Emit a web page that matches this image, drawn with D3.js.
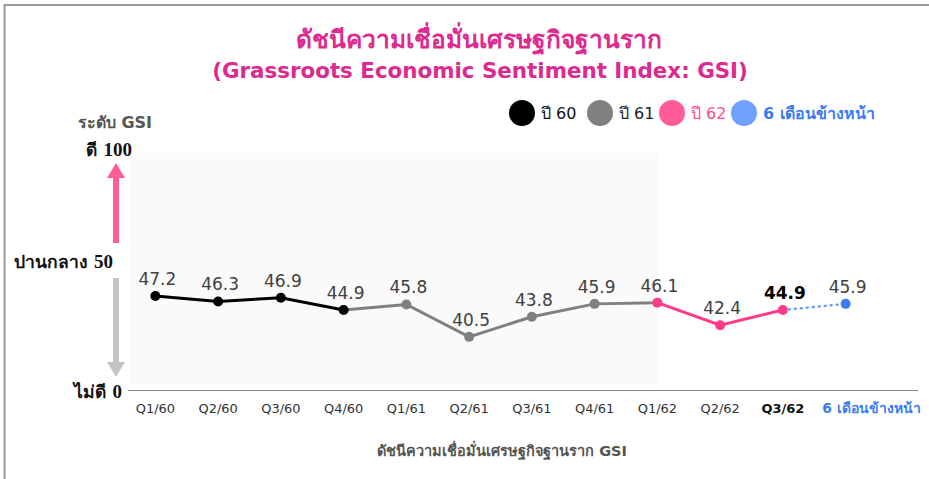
<!DOCTYPE html>
<html>
<head>
<meta charset="utf-8">
<script src="https://cdn.jsdelivr.net/npm/d3@7"></script>
<style>
	body { margin: 0; background: #fff; }
	svg { display: block; font-family: Tahoma, "DejaVu Sans", sans-serif; }
</style>
</head>
<body>
<div id="chart-area"></div>
<script>
// Data
let quarters = ["Q1/60", "Q2/60", "Q3/60", "Q4/60", "Q1/61", "Q2/61", "Q3/61", "Q4/61", "Q1/62", "Q2/62", "Q3/62", "6 เดือนข้างหน้า"];
let gsi = [47.2, 46.3, 46.9, 44.9, 45.8, 40.5, 43.8, 45.9, 46.1, 42.4, 44.9, 45.9];
let pointGroup = ["ปี 60", "ปี 60", "ปี 60", "ปี 60", "ปี 61", "ปี 61", "ปี 61", "ปี 61", "ปี 62", "ปี 62", "ปี 62", "6 เดือนข้างหน้า"];

// Line pieces (first and last quarter of each piece)
let pieceGroup = ["ปี 60", "ปี 61", "ปี 62", "6 เดือนข้างหน้า"];
let pieceFrom = ["Q1/60", "Q4/60", "Q1/62", "Q3/62"];
let pieceTo = ["Q4/60", "Q1/62", "Q3/62", "6 เดือนข้างหน้า"];

// Legend
let legendNames = ["ปี 60", "ปี 61", "ปี 62", "6 เดือนข้างหน้า"];

// Left side scale notes
let levelLabels = ["ดี", "ปานกลาง", "ไม่ดี"];
let levelValues = ["100", "50", "0"];

let width = 929, height = 479;
let svg = d3.select("#chart-area")
	.append("svg")
	.attr("width", width)
	.attr("height", height);

// Colors per group
let pointColor = d3.scaleOrdinal().domain(legendNames).range(["#000000", "#808080", "#ff3a88", "#3b7cf0"]);
let lineColor = d3.scaleOrdinal().domain(legendNames).range(["#000000", "#808080", "#ff3a88", "#6a9cff"]);
let legendColor = d3.scaleOrdinal().domain(legendNames).range(["#000000", "#808080", "#ff5c98", "#6fa1ff"]);
let legendText = d3.scaleOrdinal().domain(legendNames).range(["#111111", "#222222", "#ff4d8f", "#3b7cf0"]);

// Frame
svg.append("path")
	.attr("d", "M4.5,479V5H929")
	.attr("fill", "none")
	.attr("stroke", "#9a9a9a")
	.attr("stroke-width", 2);

// Scales
let x = d3.scaleBand()
	.domain(quarters)
	.range([124, 877]);
let y = d3.scaleLinear()
	.domain([31.8, 70.6])
	.range([390, 153]);
let cx = d => x(d) + x.bandwidth() / 2;

// Plot background (history part)
svg.append("rect")
	.attr("x", 130)
	.attr("y", y(70.6))
	.attr("width", cx("Q1/62") - 130)
	.attr("height", y(32.6) - y(70.6))
	.attr("fill", "#fafafa");

// Titles
svg.append("text")
	.attr("x", 479).attr("y", 48)
	.attr("text-anchor", "middle")
	.attr("font-size", 24.5).attr("font-weight", "bold")
	.attr("fill", "#dc2a8f")
	.text("ดัชนีความเชื่อมั่นเศรษฐกิจฐานราก");
svg.append("text")
	.attr("x", 480).attr("y", 78)
	.attr("text-anchor", "middle")
	.attr("font-size", 21.4).attr("font-weight", "bold")
	.attr("fill", "#dc2a8f")
	.text("(Grassroots Economic Sentiment Index: GSI)");

// Legend
let legendX = [522, 600, 672, 744];
let legend = svg.selectAll(".legend")
	.data(legendNames)
	.enter()
	.append("g")
	.attr("class", "legend")
	.attr("transform", (d, i) => "translate(" + legendX[i] + ",113)");
legend.append("circle")
	.attr("r", 13)
	.attr("fill", d => legendColor(d));
legend.append("text")
	.attr("x", 19).attr("y", 6)
	.attr("font-size", 16)
	.attr("font-weight", (d, i) => i == 3 ? "bold" : "normal")
	.attr("fill", d => legendText(d))
	.text(d => d);

// Left notes
svg.append("text")
	.attr("x", 152).attr("y", 128)
	.attr("text-anchor", "end")
	.attr("font-size", 16).attr("font-weight", "bold")
	.attr("fill", "#555")
	.text("ระดับ GSI");
let levelY = [156, 268, 398];
levelLabels.forEach((d, i) => {
	let t = svg.append("text")
		.attr("x", [132, 113, 122][i]).attr("y", levelY[i])
		.attr("text-anchor", "end")
		.attr("font-weight", "bold")
		.attr("fill", "#111");
	t.append("tspan")
		.attr("font-size", 17.5)
		.text(d + " ");
	t.append("tspan")
		.attr("font-family", "'Liberation Serif', serif")
		.attr("font-size", 19)
		.text(levelValues[i]);
});

// Arrows
svg.append("path")
	.attr("d", "M113,243V178H107L116,163L125,178H119V243Z")
	.attr("fill", "#ff5c98");
svg.append("path")
	.attr("d", "M113,278V362H107L116,377L125,362H119V278Z")
	.attr("fill", "#c4c4c4");

// X axis line
svg.append("line")
	.attr("x1", 128).attr("x2", 918)
	.attr("y1", 390.5).attr("y2", 390.5)
	.attr("stroke", "#888").attr("stroke-width", 1.2);

// X axis labels
svg.selectAll(".xlab")
	.data(quarters)
	.enter()
	.append("text")
	.attr("class", "xlab")
	.attr("x", (d, i) => i == 11 ? cx(d) + 26 : cx(d))
	.attr("y", 413)
	.attr("text-anchor", "middle")
	.attr("font-size", (d, i) => i == 11 ? 14 : 13)
	.attr("font-weight", (d, i) => i >= 10 ? "bold" : "normal")
	.attr("fill", (d, i) => i == 11 ? "#3b7cf0" : (i == 10 ? "#111" : "#333"))
	.text(d => d);

// X axis title
svg.append("text")
	.attr("x", 502).attr("y", 456)
	.attr("text-anchor", "middle")
	.attr("font-size", 14.5).attr("font-weight", "bold")
	.attr("fill", "#555")
	.text("ดัชนีความเชื่อมั่นเศรษฐกิจฐานราก GSI");

// Lines
let line = d3.line()
	.x(d => cx(d))
	.y(d => y(gsi[quarters.indexOf(d)]));
pieceGroup.forEach((g, i) => {
	let pts = quarters.slice(quarters.indexOf(pieceFrom[i]), quarters.indexOf(pieceTo[i]) + 1);
	svg.append("path")
		.datum(pts)
		.attr("d", line)
		.attr("fill", "none")
		.attr("stroke", lineColor(g))
		.attr("stroke-width", g == "6 เดือนข้างหน้า" ? 2.5 : 3)
		.attr("stroke-dasharray", g == "6 เดือนข้างหน้า" ? "1,5" : null)
		.attr("stroke-linecap", "round");
});

// Points
svg.selectAll(".dot")
	.data(quarters)
	.enter()
	.append("circle")
	.attr("class", "dot")
	.attr("cx", d => cx(d))
	.attr("cy", (d, i) => y(gsi[i]))
	.attr("r", 5)
	.attr("fill", (d, i) => pointColor(pointGroup[i]));

// Value labels
svg.selectAll(".val")
	.data(quarters)
	.enter()
	.append("text")
	.attr("class", "val")
	.attr("x", d => cx(d) + 2)
	.attr("y", (d, i) => y(gsi[i]) - 11)
	.attr("text-anchor", "middle")
	.attr("font-size", 17)
	.attr("font-weight", (d, i) => i == 10 ? "bold" : "normal")
	.attr("fill", (d, i) => i == 10 ? "#000" : "#404040")
	.text((d, i) => gsi[i].toFixed(1));
</script>
</body>
</html>
